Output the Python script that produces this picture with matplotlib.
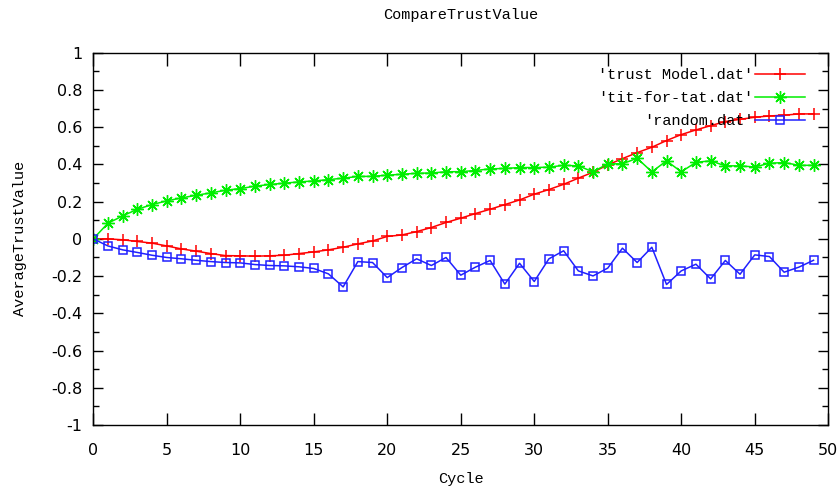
import numpy as np
import matplotlib
matplotlib.use("Agg")
import matplotlib.pyplot as plt
from matplotlib.ticker import MultipleLocator

# cycles 0..49
cycles = list(range(50))

trust_model = [0.000, 0.000, -0.005, -0.014, -0.023, -0.038, -0.054, -0.066, -0.079, -0.090,
               -0.091, -0.093, -0.091, -0.088, -0.079, -0.070, -0.059, -0.045, -0.027, -0.011,
               0.013, 0.021, 0.039, 0.061, 0.088, 0.111, 0.136, 0.159, 0.184, 0.209,
               0.240, 0.265, 0.293, 0.326, 0.358, 0.397, 0.431, 0.463, 0.492, 0.528,
               0.560, 0.585, 0.608, 0.630, 0.642, 0.653, 0.660, 0.664, 0.671, 0.671]

tit_for_tat = [0.000, 0.084, 0.123, 0.159, 0.184, 0.204, 0.220, 0.234, 0.247, 0.261,
               0.270, 0.283, 0.292, 0.299, 0.306, 0.311, 0.318, 0.326, 0.335, 0.336,
               0.342, 0.347, 0.352, 0.354, 0.360, 0.361, 0.367, 0.376, 0.378, 0.383,
               0.383, 0.385, 0.395, 0.392, 0.360, 0.403, 0.403, 0.433, 0.360, 0.419,
               0.360, 0.411, 0.419, 0.392, 0.392, 0.386, 0.406, 0.410, 0.395, 0.395]

random_vals = [0.000, -0.038, -0.059, -0.073, -0.088, -0.100, -0.107, -0.115, -0.122, -0.127,
               -0.129, -0.138, -0.143, -0.145, -0.150, -0.159, -0.188, -0.258, -0.122, -0.127,
               -0.208, -0.154, -0.107, -0.143, -0.100, -0.195, -0.152, -0.116, -0.243, -0.131,
               -0.229, -0.107, -0.064, -0.172, -0.199, -0.157, -0.050, -0.127, -0.045, -0.245,
               -0.172, -0.136, -0.215, -0.116, -0.190, -0.086, -0.095, -0.179, -0.152, -0.115]

labels = ["'trust Model.dat'", "'tit-for-tat.dat'", "'random.dat'"]

mono = "Liberation Mono"

fig = plt.figure(figsize=(8.4, 4.92), dpi=100)
ax = fig.add_axes([0.111, 0.136, 0.875, 0.757])

ax.plot(cycles, trust_model, color="#ff0000", lw=1.1, marker="+", ms=8, mew=1.1, label=labels[0])
ax.plot(cycles, tit_for_tat, color="#00ee00", lw=1.1, marker=(8, 2, 0), ms=9, mew=1.0, label=labels[1])
ax.plot(cycles, random_vals, color="#2020ff", lw=1.1, marker="s", ms=6, mew=1.1,
        fillstyle="none", label=labels[2])

ax.set_xlim(0, 50)
ax.set_ylim(-1, 1)
ax.xaxis.set_major_locator(MultipleLocator(5))
ax.yaxis.set_major_locator(MultipleLocator(0.2))
ax.yaxis.set_minor_locator(MultipleLocator(0.1))
ax.tick_params(axis="both", which="both", direction="in", top=True, right=True,
               labelsize=11.5, width=1.0)
ax.tick_params(axis="x", which="major", length=9, pad=13)
ax.tick_params(axis="y", which="major", length=7, pad=8)
ax.tick_params(axis="y", which="minor", length=4)
ax.set_yticklabels([f"{v:g}" for v in np.round(ax.get_yticks(), 1)])
for s in ax.spines.values():
    s.set_linewidth(1.0)

ax.set_title("CompareTrustValue", family=mono, fontsize=11, pad=24)
ax.set_xlabel("Cycle", family=mono, fontsize=11, labelpad=10)
ax.set_ylabel("AverageTrustValue", family=mono, fontsize=11, labelpad=17)

leg = ax.legend(loc="upper right", bbox_to_anchor=(0.977, 0.975), frameon=False,
                markerfirst=False, handlelength=3.3, handletextpad=0.1, labelspacing=0.6,
                borderaxespad=0, prop={"family": mono, "size": 11})

fig.savefig("out.png", dpi=100)
